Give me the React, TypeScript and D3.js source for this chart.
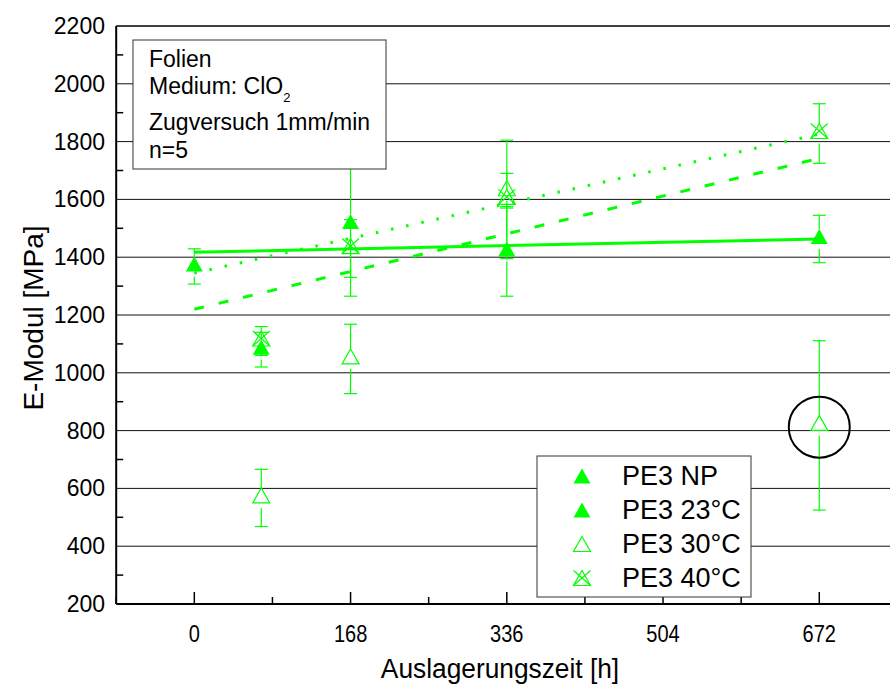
import React from "react";
import * as d3 from "d3";

// ---- data ----
const xTicks = [0, 168, 336, 504, 672];
const xMinorTicks = [-84, 84, 252, 420, 588, 756];
const yTicks = [200, 400, 600, 800, 1000, 1200, 1400, 1600, 1800, 2000, 2200];
const yMinorTicks = [300, 500, 700, 900, 1100, 1300, 1500, 1700, 1900, 2100];
const gridValues = [400, 600, 800, 1000, 1200, 1400, 1600, 1800, 2000];

const hoursNP = [0];
const valuesNP = [1368];
const errNP = [61];

const hours23 = [72, 168, 336, 672];
const values23 = [1080, 1515, 1420, 1463];
const err23 = [60, 250, 155, 82];

const hours30 = [72, 168, 336, 672];
const values30 = [567, 1048, 1630, 818];
const err30 = [99, 120, 60, 293];

const hours40 = [72, 168, 336, 672];
const values40 = [1110, 1430, 1600, 1828];
const err40 = [50, 100, 205, 103];

const fitHours = [0, 672];
const fitSolid = [1417, 1463];
const fitDashed = [1220, 1742];
const fitDotted = [1345, 1826];

const legendLabels = ["PE3 NP", "PE3 23°C", "PE3 30°C", "PE3 40°C"];
const noteLines = ["Folien", "Medium: ClO", "Zugversuch 1mm/min", "n=5"];
const circleHour = 672;
const circleValue = 812;

const GREEN = "#00ff00";
const FONT = "'Liberation Sans', Arial, sans-serif";

type Kind = "filled" | "open" | "cross";

const x = d3.scaleLinear().domain([-84, 756]).range([116.2, 897.4]);
const y = d3.scaleLinear().domain([200, 2200]).range([604, 26]);

function Marker({ cx, cy, kind }: { cx: number; cy: number; kind: Kind }) {
  // cy = centroid of triangle
  const tri = d3.path();
  tri.moveTo(cx, cy - 10);
  tri.lineTo(cx + 8.5, cy + 5);
  tri.lineTo(cx - 8.5, cy + 5);
  tri.closePath();
  if (kind === "filled") return <path d={tri.toString()} fill={GREEN} />;
  return (
    <g fill="none" stroke={GREEN} strokeWidth={1.2}>
      <path d={tri.toString()} />
      {kind === "cross" && (
        <>
          <line x1={cx - 8.5} y1={cy - 10} x2={cx + 8.5} y2={cy + 5} />
          <line x1={cx + 8.5} y1={cy - 10} x2={cx - 8.5} y2={cy + 5} />
        </>
      )}
    </g>
  );
}

function ErrorBar({ h, v, e }: { h: number; v: number; e: number }) {
  const cx = x(h);
  const yc = y(v);
  const yt = y(v + e);
  const yb = y(v - e);
  return (
    <g stroke={GREEN} strokeWidth={1.2}>
      {yt < yc - 10 && <line x1={cx} x2={cx} y1={yt} y2={yc - 10} />}
      {yb > yc + 10 && <line x1={cx} x2={cx} y1={yc + 10} y2={yb} />}
      <line x1={cx - 6.5} x2={cx + 6.5} y1={yt} y2={yt} />
      <line x1={cx - 6.5} x2={cx + 6.5} y1={yb} y2={yb} />
    </g>
  );
}

export default function App() {
  const series: { hours: number[]; values: number[]; err: number[]; kind: Kind }[] = [
    { hours: hoursNP, values: valuesNP, err: errNP, kind: "filled" },
    { hours: hours23, values: values23, err: err23, kind: "filled" },
    { hours: hours30, values: values30, err: err30, kind: "open" },
    { hours: hours40, values: values40, err: err40, kind: "cross" },
  ];
  const legendKinds: Kind[] = ["filled", "filled", "open", "cross"];
  const line = d3
    .line<number>()
    .x((_, i) => x(fitHours[i]))
    .y((d) => y(d));

  const left = x(-84);
  const right = 900;

  return (
    <svg
      width={890}
      height={685}
      style={{ position: "absolute", left: 0, top: 0, background: "#fff" }}
      fontFamily={FONT}
    >
      <rect x={0} y={0} width={890} height={685} fill="#fff" />
      {/* grid */}
      {gridValues.map((g) => (
        <line key={g} x1={left} x2={right} y1={y(g)} y2={y(g)} stroke="#111" strokeWidth={1} />
      ))}
      {/* minor ticks */}
      {yMinorTicks.map((t) => (
        <line key={t} x1={left} x2={left + 7} y1={y(t)} y2={y(t)} stroke="#000" strokeWidth={1.5} />
      ))}
      {xMinorTicks.map((t) => (
        <line key={t} x1={x(t)} x2={x(t)} y1={604} y2={597} stroke="#000" strokeWidth={1.5} />
      ))}
      {xTicks.map((t) => (
        <line key={t} x1={x(t)} x2={x(t)} y1={604} y2={592} stroke="#000" strokeWidth={1.5} />
      ))}
      {/* axes */}
      <line x1={left} x2={left} y1={y(2200)} y2={604} stroke="#000" strokeWidth={2} />
      <line x1={left} x2={right} y1={604} y2={604} stroke="#000" strokeWidth={2} />
      <line x1={left} x2={right} y1={y(2200)} y2={y(2200)} stroke="#000" strokeWidth={1.5} />

      {/* error bars */}
      {series.map((s, si) =>
        s.hours.map((h, i) => <ErrorBar key={`${si}-${i}`} h={h} v={s.values[i]} e={s.err[i]} />)
      )}

      {/* fit lines */}
      <path d={line(fitSolid) || ""} fill="none" stroke={GREEN} strokeWidth={3} />
      <path d={line(fitDashed) || ""} fill="none" stroke={GREEN} strokeWidth={3} strokeDasharray="10,15" />
      <path d={line(fitDotted) || ""} fill="none" stroke={GREEN} strokeWidth={3} strokeDasharray="2.5,13" />

      {/* markers */}
      {series.map((s, si) =>
        s.hours.map((h, i) => (
          <Marker key={`m${si}-${i}`} cx={x(h)} cy={y(s.values[i])} kind={s.kind} />
        ))
      )}

      {/* circle annotation */}
      <circle cx={x(circleHour)} cy={y(circleValue)} r={30.5} fill="none" stroke="#000" strokeWidth={2} />

      {/* note box */}
      <rect x={133} y={40} width={253} height={129} fill="#fff" stroke="#333" strokeWidth={1} />
      <g fontSize={23} fill="#000">
        <text x={149} y={67}>{noteLines[0]}</text>
        <text x={149} y={94}>
          {noteLines[1]}
          <tspan fontSize={13} dy={8}>2</tspan>
        </text>
        <text x={149} y={130}>{noteLines[2]}</text>
        <text x={149} y={158}>{noteLines[3]}</text>
      </g>

      {/* legend */}
      <rect x={537} y={456} width={214} height={141} fill="#fff" stroke="#333" strokeWidth={1} />
      {legendLabels.map((lab, i) => {
        const ry = 476 + i * 34;
        return (
          <g key={lab}>
            <Marker cx={582} cy={ry + 2.5} kind={legendKinds[i]} />
            <text x={622} y={ry} dominantBaseline="central" fontSize={27} fill="#000">
              {lab}
            </text>
          </g>
        );
      })}

      {/* tick labels */}
      {yTicks.map((t) => (
        <text key={t} x={105} y={y(t)} textAnchor="end" dominantBaseline="central" fontSize={23}>
          {t}
        </text>
      ))}
      {xTicks.map((t) => (
        <text
          key={t}
          transform={`translate(${x(t)},634) scale(0.87,1)`}
          textAnchor="middle"
          dominantBaseline="central"
          fontSize={23}
        >
          {t}
        </text>
      ))}

      {/* axis titles */}
      <text
        transform={`translate(33,${318}) rotate(-90)`}
        textAnchor="middle"
        dominantBaseline="central"
        fontSize={28}
      >
        E-Modul [MPa]
      </text>
      <text
        transform="translate(500,668) scale(0.94,1)"
        textAnchor="middle"
        dominantBaseline="central"
        fontSize={28}
      >
        Auslagerungszeit [h]
      </text>
    </svg>
  );
}
